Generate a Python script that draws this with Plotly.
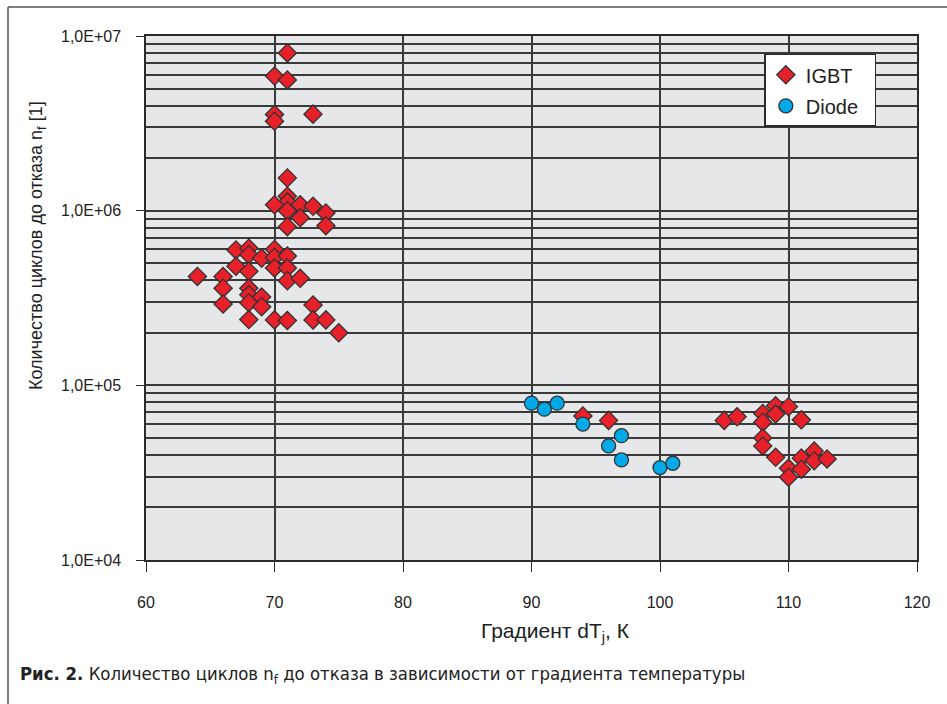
import plotly.graph_objects as go

# Thermal cycling test results: temperature swing dT_j vs cycles to failure n_f
igbt_dT = [71, 70, 71, 70, 70, 73, 71, 71, 71, 70, 72, 73, 71, 74, 72, 71, 74,
           67, 68, 68, 69, 70, 70, 71, 67, 68, 70, 71, 64, 66, 71, 72, 66, 68,
           68, 69, 68, 69, 66, 73, 68, 70, 71, 73, 74, 75,
           94, 96, 105, 106, 108, 108, 109, 109, 110, 111, 108, 108, 109, 110,
           110, 111, 111, 112, 112, 113]
igbt_nf = [8.0e6, 5.9e6, 5.6e6, 3.55e6, 3.25e6, 3.57e6, 1.54e6, 1.21e6, 1.12e6,
           1.08e6, 1.08e6, 1.06e6, 1.0e6, 9.7e5, 9.1e5, 8.1e5, 8.2e5,
           5.96e5, 6.1e5, 5.6e5, 5.35e5, 6.0e5, 5.4e5, 5.5e5, 4.8e5, 4.5e5,
           4.7e5, 4.7e5, 4.2e5, 4.2e5, 3.97e5, 4.1e5, 3.6e5, 3.6e5, 3.3e5,
           3.2e5, 2.97e5, 2.82e5, 2.92e5, 2.88e5, 2.38e5, 2.37e5, 2.35e5,
           2.37e5, 2.37e5, 2.0e5,
           6.68e4, 6.3e4, 6.3e4, 6.6e4, 6.9e4, 6.15e4, 7.65e4, 6.85e4, 7.55e4,
           6.35e4, 5.0e4, 4.5e4, 3.87e4, 3.35e4, 2.98e4, 3.83e4, 3.31e4,
           4.2e4, 3.7e4, 3.79e4]

diode_dT = [90, 91, 92, 94, 97, 96, 97, 100, 101]
diode_nf = [7.9e4, 7.3e4, 7.9e4, 6.0e4, 5.15e4, 4.5e4, 3.74e4, 3.38e4, 3.58e4]

x_ticks = [60, 70, 80, 90, 100, 110, 120]
y_ticks = [1e4, 1e5, 1e6, 1e7]
y_tick_text = ["1,0E+04", "1,0E+05", "1,0E+06", "1,0E+07"]

FONT = "Liberation Sans"
CAPTION_FONT = "DejaVu Sans Condensed"
DARK = "#2b2b2b"
GRID = "#3a3a3a"
TEXT = "#222222"

# plot area in pixels, used to place annotations in paper units
PW, PH = 771, 524

fig = go.Figure()
fig.add_trace(go.Scatter(
    x=igbt_dT, y=igbt_nf, mode="markers", name="IGBT&nbsp;&nbsp;",
    legendgroup="a",
    marker=dict(symbol="diamond", size=14, color="#e8202a",
                line=dict(color="#333333", width=1.3)),
))
fig.add_trace(go.Scatter(
    x=diode_dT, y=diode_nf, mode="markers", name="Diode&nbsp;&nbsp;",
    legendgroup="b",
    marker=dict(symbol="circle", size=14, color="#00aae8",
                line=dict(color="#333333", width=1.3)),
))

fig.update_layout(
    width=947, height=704,
    margin=dict(l=146, r=30, t=36, b=144),
    paper_bgcolor="white", plot_bgcolor="#e6e7e8",
    font=dict(family=FONT, color=TEXT),
    showlegend=True,
    legend=dict(
        x=0.802, y=0.966, xanchor="left", yanchor="top",
        bgcolor="white", bordercolor=DARK, borderwidth=1.5,
        font=dict(family=FONT, size=20, color=TEXT),
        traceorder="grouped", tracegroupgap=2, itemwidth=30,
    ),
    xaxis=dict(
        range=[60, 120], tickvals=x_ticks, ticks="outside", ticklen=10,
        tickwidth=1.3, tickcolor=DARK, showline=True, linecolor=DARK,
        linewidth=1.5, mirror=True, showgrid=True, gridcolor=GRID,
        gridwidth=1.5, zeroline=False, ticklabelstandoff=17,
        tickfont=dict(family=FONT, size=16, color=TEXT),
    ),
    yaxis=dict(
        type="log", range=[4, 7], tickvals=y_ticks, ticktext=y_tick_text,
        ticks="outside", ticklen=8, tickwidth=1.3, tickcolor=DARK,
        showline=True, linecolor=DARK, linewidth=1.5, mirror=True,
        showgrid=True, gridcolor=GRID, gridwidth=1.5, zeroline=False,
        ticklabelstandoff=12,
        tickfont=dict(family=FONT, size=16, color=TEXT),
        minor=dict(dtick="D1", showgrid=True, gridcolor=GRID, gridwidth=1.5,
                   ticks=""),
    ),
)

# Axis titles
fig.add_annotation(
    xref="paper", yref="paper", x=(38 - 146) / PW, y=(560 - 246) / PH,
    xanchor="center", yanchor="middle", textangle=-90, showarrow=False,
    text="Количество циклов до отказа n<sub>f</sub> [1]",
    font=dict(family=FONT, size=18, color=TEXT),
)
fig.add_annotation(
    xref="paper", yref="paper", x=(555 - 146) / PW, y=(560 - 632) / PH,
    xanchor="center", yanchor="middle", showarrow=False,
    text="Градиент dT<sub>j</sub>, К",
    font=dict(family=FONT, size=21, color=TEXT),
)

# Caption under the chart
fig.add_annotation(
    xref="paper", yref="paper", x=(18 - 146) / PW, y=(560 - 675) / PH,
    xanchor="left", yanchor="middle", showarrow=False,
    text="<b>Рис. 2.</b> Количество циклов n<sub>f</sub> до отказа в зависимости от градиента температуры",
    font=dict(family=CAPTION_FONT, size=18.4, color=TEXT),
)

# Page frame (top and left edges)
fig.add_shape(type="line", xref="paper", yref="paper",
              x0=-138 / PW, x1=31 / PW + 1, y0=1 + 29 / PH, y1=1 + 29 / PH,
              line=dict(color="#555555", width=1.5))
fig.add_shape(type="line", xref="paper", yref="paper",
              x0=-138 / PW, x1=-138 / PW, y0=1 + 29 / PH, y1=-145 / PH,
              line=dict(color="#555555", width=1.5))

fig.write_html("out.html")
